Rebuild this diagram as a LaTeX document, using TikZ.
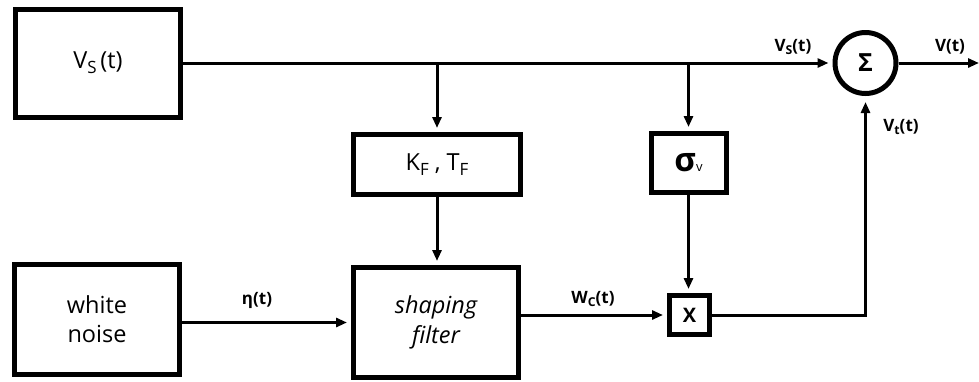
\documentclass[tikz,border=0pt]{standalone}
\usepackage{fontspec}
\usepackage{graphicx}
\setmainfont{Open Sans}
\usetikzlibrary{arrows.meta}
\newcommand\lsub[1]{\raisebox{-0.4ex}{\scalebox{0.72}{#1}}}
\begin{document}
\begin{tikzpicture}[x=1pt,y=-1pt,
  blk/.style={draw,line width=5pt,inner sep=0pt,font=\fontsize{23.5}{29}\selectfont,align=center},
  arr/.style={line width=3pt,-{Triangle[length=11pt,width=9pt]},shorten >=4pt},
  lab/.style={inner sep=0pt,font=\fontsize{17}{20}\selectfont\bfseries}]
\useasboundingbox (0,0) rectangle (979,381);
% blocks
\node[blk,minimum width=165pt,minimum height=108pt] (vs) at (98,63) {V\lsub{S}\,(t)};
\node[blk,minimum width=165pt,minimum height=110pt] (wn) at (97,319.5) {white\\noise};
\node[blk,minimum width=167pt,minimum height=60pt] (kf) at (437,164.5) {K\lsub{F} , T\lsub{F}};
\node[blk,minimum width=165pt,minimum height=110pt,font=\fontsize{23.5}{30}\selectfont\itshape] (sf) at (436,322.5) {shaping\\filter};
\node[blk,minimum width=75pt,minimum height=59pt] (sg) at (688.5,163) {{\fontsize{33}{33}\selectfont\bfseries σ}{\fontsize{13}{13}\selectfont v}};
\node[blk,minimum width=40pt,minimum height=39pt,font=\fontsize{20}{22}\selectfont\bfseries] (mx) at (689.5,315) {X};
\node[blk,circle,minimum size=61pt,font=\fontsize{25}{28}\selectfont\bfseries] (sum) at (865.5,63) {Σ};
% branch points and output end
\coordinate (b1) at (437,63);
\coordinate (b2) at (688.5,63);
\coordinate (out) at (979,63);
% connectors
\draw[arr] (vs.east) -- (sum.west);
\draw[arr] (b1) -- (kf.north);
\draw[arr] (b2) -- (sg.north);
\draw[arr] (kf.south) -- (kf.south |- sf.north);
\draw[arr] (sg.south) -- (sg.south |- mx.north);
\draw[arr] (wn.east |- sf.west) -- (sf.west);
\draw[arr] (sf.east |- mx.west) -- (mx.west);
\draw[arr,shorten >=6pt] (mx.east) -| (sum.south);
\draw[arr,shorten >=0pt] (sum.east) -- (out);
% labels
\node[lab] (lvs) at (793,47) {V\lsub{S}(t)};
\node[lab] (lv) at (950,47) {V(t)};
\node[lab] (lvt) at (901,127) {V\lsub{t}(t)};
\node[lab] (leta) at (257,300) {η(t)};
\node[lab] (lwc) at (593,299) {W\lsub{C}(t)};
\end{tikzpicture}
\end{document}
